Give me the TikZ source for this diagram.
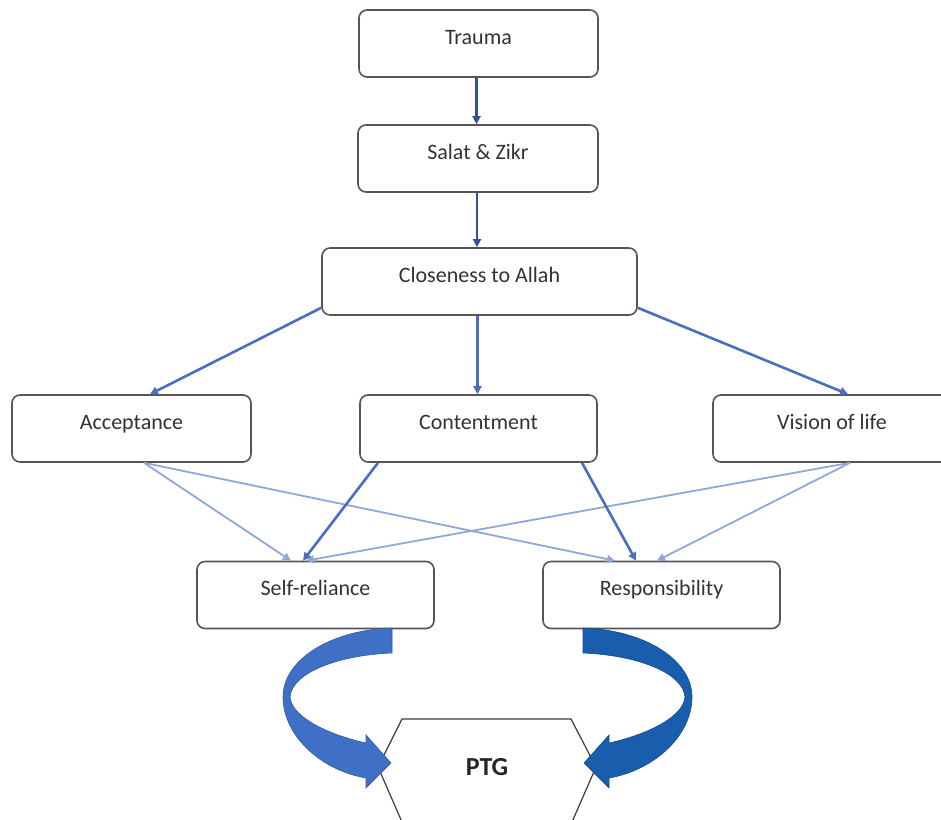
\documentclass[tikz,border=0pt]{standalone}
\usepackage{fontspec}
\setmainfont{Carlito}
\usetikzlibrary{arrows.meta,calc}
\definecolor{boxline}{RGB}{85,85,85}
\definecolor{darkarr}{RGB}{52,82,150}
\definecolor{midarr}{RGB}{74,110,192}
\definecolor{lightarr}{RGB}{143,168,218}
\definecolor{ribbonL}{RGB}{64,112,198}
\definecolor{ribbonR}{RGB}{24,94,172}
\definecolor{hexline}{RGB}{60,60,60}
\tikzset{
  box/.style={draw=boxline, line width=1.6pt, rounded corners=8pt, fill=white,
    font=\fontsize{22}{26}\selectfont, text=black!80,
    text height=34pt, text depth=33pt, inner ysep=0pt, inner xsep=0pt,
    minimum width=238pt},
  darrow/.style={draw=darkarr, line width=2.4pt, -{Triangle[length=8pt,width=8pt]}},
  marrow/.style={draw=midarr, line width=2.6pt, -{Triangle[length=8pt,width=8pt]}},
  larrow/.style={draw=lightarr, line width=1.8pt, -{Triangle[length=8pt,width=8pt]}},
}
\begin{document}
\begin{tikzpicture}[x=1pt,y=-1pt]
\useasboundingbox (0,0) rectangle (941,819);
\clip (0,0) rectangle (941,819);
\fill[white] (0,0) rectangle (941,819);

% boxes
\node[box, minimum width=239pt] (trauma) at (478.5,43.5) {Trauma};
\node[box, minimum width=240pt] (salat) at (478,158.5) {Salat \& Zikr};
\node[box, minimum width=315pt] (close) at (479.5,281.5) {Closeness to Allah};
\node[box, minimum width=239pt] (accept) at (131.5,428.5) {Acceptance};
\node[box, minimum width=237pt] (content) at (478.5,428.5) {Contentment};
\node[box, minimum width=238pt] (vision) at (832,428.5) {Vision of life};
\node[box, minimum width=237pt] (selfrel) at (315.5,595) {Self-reliance};
\node[box, minimum width=237pt] (resp) at (661.5,595) {Responsibility};

% top connectors
\draw[darrow] ($(trauma.south)+(-2,0)$) -- ($(salat.north)+(-1.5,0)$);
\draw[darrow] ($(salat.south)+(-1,0)$) -- ($(close.north)+(-2.5,0)$);
\draw[marrow] ($(close.south west)+(0,-8)$) -- ($(accept.north)+(18.5,0)$);
\draw[marrow] ($(close.south)+(-2,0)$) -- ($(content.north)+(-1,0)$);
\draw[marrow] ($(close.south east)+(0,-8)$) -- ($(vision.north)+(16,0)$);

% lower connectors
\draw[larrow] ($(accept.south)+(12.5,0)$) -- ($(selfrel.north)+(-24.5,0)$);
\draw[larrow] ($(accept.south)+(12.5,0)$) -- ($(resp.north)+(-46.5,0)$);
\draw[larrow] ($(vision.south)+(18,0)$) -- ($(selfrel.north)+(-9.5,0)$);
\draw[larrow] ($(vision.south)+(18,0)$) -- ($(resp.north)+(-4.5,0)$);
\draw[marrow] ($(content.south)+(-100.5,0)$) -- ($(selfrel.north)+(-12.5,0)$);
\draw[marrow] ($(content.south)+(103.5,0)$) -- ($(resp.north)+(-25.5,0)$);

% PTG hexagon
\node[font=\fontsize{26}{30}\selectfont\bfseries, text=black!85] (ptg) at (487,767) {PTG};
\draw[hexline, line width=1.2pt, fill=white]
  ($(ptg)+(-85,-48)$) -- ($(ptg)+(84,-48)$) -- ($(ptg)+(109,0)$) --
  ($(ptg)+(85,55)$) -- ($(ptg)+(-85,55)$) -- ($(ptg)+(-109,0)$) -- cycle;
\node[font=\fontsize{26}{30}\selectfont\bfseries, text=black!85] at (ptg) {PTG};

% curved ribbon arrows
\fill[ribbonL, draw=ribbonL!80!black, line width=0.6pt]
  (392,628) -- (392,653)
  .. controls (340,655) and (292,672) .. (290,697)
  .. controls (292,718) and (330,735) .. (366,743)
  -- (366,735) -- (391,763) -- (366,788) -- (366,778)
  .. controls (320,770) and (283,735) .. (283,697)
  .. controls (283,660) and (330,630) .. (392,628) -- cycle;
\fill[ribbonR, draw=ribbonR!80!black, line width=0.6pt]
  (583,628) -- (583,653)
  .. controls (635,655) and (683,672) .. (685,697)
  .. controls (683,718) and (645,735) .. (609,743)
  -- (609,735) -- (584,763) -- (609,788) -- (609,778)
  .. controls (655,770) and (692,735) .. (692,697)
  .. controls (692,660) and (645,630) .. (583,628) -- cycle;
\end{tikzpicture}
\end{document}
